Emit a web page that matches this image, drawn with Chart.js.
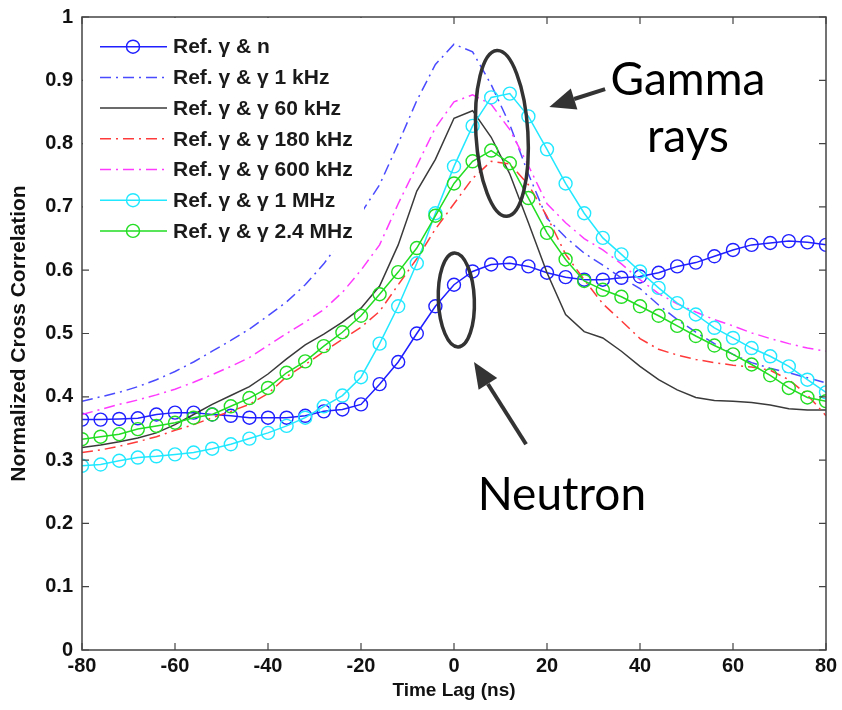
<!DOCTYPE html>
<html>
<head>
<meta charset="utf-8">
<script src="https://cdn.jsdelivr.net/npm/chart.js@4.4.1/dist/chart.umd.min.js"></script>
<style>
  html, body { margin: 0; padding: 0; background: #fff; }
  #wrap { width: 842px; height: 710px; }
</style>
</head>
<body>
<div id="wrap"><canvas id="ccChart" width="842" height="710"></canvas></div>
<script>
// time lag samples (ns)
var lags = [-80, -76, -72, -68, -64, -60, -56, -52, -48, -44, -40, -36, -32, -28, -24, -20, -16, -12, -8, -4,
            0, 4, 8, 12, 16, 20, 24, 28, 32, 36, 40, 44, 48, 52, 56, 60, 64, 68, 72, 76, 80];

var seriesNames = ['Ref. \u03b3 & n', 'Ref. \u03b3 & \u03b3 1 kHz', 'Ref. \u03b3 & \u03b3 60 kHz',
                   'Ref. \u03b3 & \u03b3 180 kHz', 'Ref. \u03b3 & \u03b3 600 kHz', 'Ref. \u03b3 & \u03b3 1 MHz',
                   'Ref. \u03b3 & \u03b3 2.4 MHz'];

var gammaN = [0.364, 0.364, 0.365, 0.366, 0.372, 0.375, 0.375, 0.372, 0.370, 0.367, 0.367, 0.367, 0.370, 0.377,
              0.380, 0.388, 0.420, 0.455, 0.500, 0.543, 0.577, 0.598, 0.609, 0.611, 0.606, 0.596, 0.589, 0.585,
              0.585, 0.588, 0.590, 0.596, 0.606, 0.612, 0.622, 0.632, 0.640, 0.643, 0.646, 0.644, 0.640];
var gg1k = [0.393, 0.400, 0.407, 0.416, 0.427, 0.440, 0.455, 0.472, 0.489, 0.507, 0.528, 0.550, 0.577, 0.610,
            0.650, 0.690, 0.735, 0.800, 0.868, 0.925, 0.957, 0.945, 0.893, 0.830, 0.752, 0.682, 0.652, 0.627,
            0.608, 0.588, 0.571, 0.545, 0.522, 0.502, 0.484, 0.467, 0.454, 0.445, 0.438, 0.430, 0.422];
var gg60k = [0.320, 0.324, 0.329, 0.335, 0.343, 0.356, 0.372, 0.388, 0.402, 0.416, 0.436, 0.460, 0.482, 0.499,
             0.518, 0.540, 0.575, 0.640, 0.725, 0.775, 0.840, 0.852, 0.810, 0.752, 0.675, 0.596, 0.530, 0.503,
             0.493, 0.472, 0.448, 0.427, 0.411, 0.399, 0.394, 0.393, 0.391, 0.387, 0.381, 0.379, 0.379];
var gg180k = [0.312, 0.316, 0.322, 0.329, 0.337, 0.347, 0.356, 0.367, 0.377, 0.388, 0.405, 0.432, 0.451, 0.471,
              0.491, 0.510, 0.535, 0.577, 0.618, 0.665, 0.705, 0.745, 0.772, 0.768, 0.735, 0.685, 0.625, 0.585,
              0.547, 0.520, 0.492, 0.475, 0.466, 0.459, 0.454, 0.450, 0.447, 0.442, 0.427, 0.403, 0.370];
var gg600k = [0.372, 0.380, 0.388, 0.395, 0.403, 0.412, 0.423, 0.435, 0.448, 0.462, 0.481, 0.500, 0.518, 0.538,
              0.565, 0.600, 0.640, 0.705, 0.765, 0.825, 0.866, 0.877, 0.862, 0.822, 0.765, 0.705, 0.675, 0.650,
              0.632, 0.610, 0.585, 0.563, 0.547, 0.534, 0.522, 0.512, 0.501, 0.492, 0.484, 0.477, 0.472];
var gg1M = [0.291, 0.293, 0.299, 0.304, 0.306, 0.309, 0.312, 0.318, 0.325, 0.334, 0.343, 0.354, 0.367, 0.385,
            0.402, 0.431, 0.484, 0.543, 0.611, 0.690, 0.764, 0.828, 0.873, 0.879, 0.843, 0.791, 0.737, 0.690,
            0.651, 0.625, 0.598, 0.572, 0.548, 0.530, 0.509, 0.493, 0.477, 0.464, 0.448, 0.427, 0.407];
var gg24M = [0.333, 0.337, 0.341, 0.349, 0.354, 0.359, 0.367, 0.372, 0.385, 0.398, 0.414, 0.438, 0.456, 0.480,
             0.502, 0.528, 0.562, 0.597, 0.635, 0.686, 0.737, 0.772, 0.789, 0.769, 0.714, 0.659, 0.617, 0.583,
             0.569, 0.558, 0.543, 0.528, 0.512, 0.496, 0.481, 0.467, 0.451, 0.434, 0.414, 0.399, 0.393];

var xTicks = [-80, -60, -40, -20, 0, 20, 40, 60, 80];
var yTicks = [0, 0.1, 0.2, 0.3, 0.4, 0.5, 0.6, 0.7, 0.8, 0.9, 1];

var allSeries = [gammaN, gg1k, gg60k, gg180k, gg600k, gg1M, gg24M];
var colors = ['#1f1fff', '#4a4aff', '#3a3a3a', '#ff3a3a', '#ff3aff', '#22e8ff', '#22dd22'];
var dashes = [[], [11, 5, 2, 5], [], [11, 5, 2, 5], [11, 5, 2, 5], [], []];
var markers = [true, false, false, false, false, true, true];

var axisFont = '"Liberation Sans Narrow", "Liberation Sans", Arial, sans-serif';

function toPoints(vals) {
    return vals.map(function (v, i) { return { x: lags[i], y: v }; });
}

var datasets = allSeries.map(function (vals, i) {
    return {
        label: seriesNames[i],
        data: toPoints(vals),
        borderColor: colors[i],
        backgroundColor: 'rgba(0,0,0,0)',
        borderWidth: 1.5,
        borderDash: dashes[i],
        pointRadius: markers[i] ? 6.5 : 0,
        pointBorderWidth: 1.4,
        pointBorderColor: colors[i],
        pointBackgroundColor: 'rgba(0,0,0,0)',
        tension: 0,
        order: 6 - i
    };
});

// box, inward ticks, legend and the callouts
var decorations = {
    id: 'decorations',
    afterDatasetsDraw: function (chart) {
        var ctx = chart.ctx, a = chart.chartArea;
        var xs = chart.scales.x, ys = chart.scales.y;
        ctx.save();
        ctx.strokeStyle = '#444';
        ctx.lineWidth = 1.5;
        ctx.strokeRect(a.left, a.top, a.right - a.left, a.bottom - a.top);
        ctx.lineWidth = 1.2;
        ctx.beginPath();
        xTicks.forEach(function (t) {
            var px = xs.getPixelForValue(t);
            ctx.moveTo(px, a.bottom); ctx.lineTo(px, a.bottom - 7);
            ctx.moveTo(px, a.top); ctx.lineTo(px, a.top + 7);
        });
        yTicks.forEach(function (t) {
            var py = ys.getPixelForValue(t);
            ctx.moveTo(a.left, py); ctx.lineTo(a.left + 7, py);
            ctx.moveTo(a.right, py); ctx.lineTo(a.right - 7, py);
        });
        ctx.stroke();

        // legend
        ctx.fillStyle = '#fff';
        ctx.fillRect(a.left + 1, a.top + 1, 281, 233);
        seriesNames.forEach(function (name, i) {
            var y = a.top + 29.7 + i * 30.7;
            ctx.strokeStyle = colors[i];
            ctx.lineWidth = 1.5;
            ctx.setLineDash(dashes[i]);
            ctx.beginPath();
            ctx.moveTo(a.left + 18, y); ctx.lineTo(a.left + 85, y);
            ctx.stroke();
            ctx.setLineDash([]);
            if (markers[i]) {
                ctx.lineWidth = 1.4;
                ctx.beginPath();
                ctx.arc(a.left + 51, y, 6.5, 0, Math.PI * 2);
                ctx.stroke();
            }
            ctx.fillStyle = '#1a1a1a';
            ctx.font = 'bold 21px ' + axisFont;
            ctx.textBaseline = 'middle';
            ctx.textAlign = 'left';
            ctx.fillText(name, a.left + 91, y + 1, 186);
        });

        // callout ellipses
        ctx.strokeStyle = '#333';
        ctx.lineWidth = 3.5;
        ctx.beginPath();
        ctx.ellipse(xs.getPixelForValue(10.3), ys.getPixelForValue(0.816), 26, 83, -0.06, 0, Math.PI * 2);
        ctx.stroke();
        ctx.beginPath();
        ctx.ellipse(xs.getPixelForValue(0.5), ys.getPixelForValue(0.553), 18, 47, -0.04, 0, Math.PI * 2);
        ctx.stroke();

        function arrow(x1, y1, x2, y2) {
            var ang = Math.atan2(y2 - y1, x2 - x1);
            var hl = 26, hw = 11;
            var bx = x2 - hl * Math.cos(ang), by = y2 - hl * Math.sin(ang);
            ctx.lineWidth = 4;
            ctx.beginPath();
            ctx.moveTo(x1, y1); ctx.lineTo(bx, by);
            ctx.stroke();
            ctx.fillStyle = '#333';
            ctx.beginPath();
            ctx.moveTo(x2, y2);
            ctx.lineTo(bx + hw * Math.sin(ang), by - hw * Math.cos(ang));
            ctx.lineTo(bx - hw * Math.sin(ang), by + hw * Math.cos(ang));
            ctx.closePath();
            ctx.fill();
        }
        arrow(xs.getPixelForValue(32.5), ys.getPixelForValue(0.886),
              xs.getPixelForValue(20.5), ys.getPixelForValue(0.858));
        arrow(xs.getPixelForValue(15.5), ys.getPixelForValue(0.325),
              xs.getPixelForValue(4.3), ys.getPixelForValue(0.455));

        ctx.fillStyle = '#000';
        ctx.font = '46px Lato, "Open Sans", sans-serif';
        ctx.textBaseline = 'alphabetic';
        ctx.textAlign = 'center';
        ctx.fillText('Gamma', xs.getPixelForValue(50.3), ys.getPixelForValue(0.877));
        ctx.fillText('rays', xs.getPixelForValue(50.3), ys.getPixelForValue(0.787));
        ctx.fillText('Neutron', xs.getPixelForValue(23.2), ys.getPixelForValue(0.221));
        ctx.restore();
    }
};

new Chart(document.getElementById('ccChart').getContext('2d'), {
    type: 'line',
    data: { datasets: datasets },
    plugins: [decorations],
    options: {
        responsive: false,
        animation: false,
        layout: { padding: { top: 17, right: 16, left: 0, bottom: 0 } },
        plugins: { legend: { display: false }, tooltip: { enabled: false } },
        scales: {
            x: {
                type: 'linear', min: -80, max: 80,
                afterFit: function (s) { s.height = 60; s.paddingLeft = 0; s.paddingRight = 0; },
                afterBuildTicks: function (s) { s.ticks = xTicks.map(function (v) { return { value: v }; }); },
                grid: { display: false, drawTicks: false },
                border: { display: false },
                ticks: { color: '#111', padding: 4, font: { family: axisFont, size: 20, weight: 'bold' } },
                title: { display: true, text: 'Time Lag (ns)', color: '#111', padding: { top: 0, bottom: 8 },
                         font: { family: axisFont, size: 19, weight: 'bold' } }
            },
            y: {
                type: 'linear', min: 0, max: 1,
                afterFit: function (s) { s.width = 82; s.paddingTop = 0; s.paddingBottom = 0; },
                afterBuildTicks: function (s) { s.ticks = yTicks.map(function (v) { return { value: v }; }); },
                grid: { display: false, drawTicks: false },
                border: { display: false },
                ticks: { color: '#111', padding: 9, font: { family: axisFont, size: 20, weight: 'bold' },
                         callback: function (v) { return (v === 0 || v === 1) ? String(v) : v.toFixed(1); } },
                title: { display: true, text: 'Normalized Cross Correlation', color: '#111', padding: 7,
                         font: { family: axisFont, size: 21, weight: 'bold' } }
            }
        }
    }
});
</script>
</body>
</html>
